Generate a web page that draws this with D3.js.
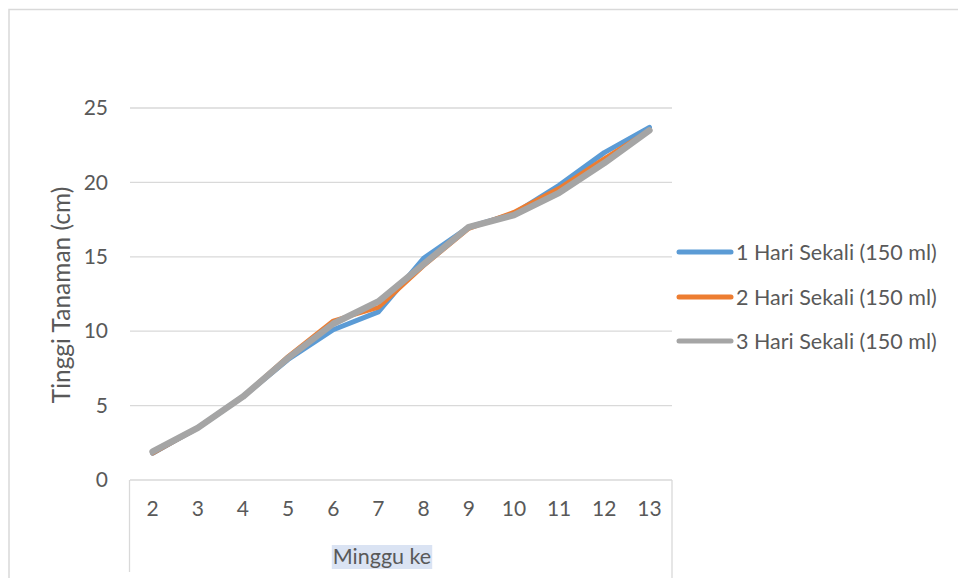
<!DOCTYPE html>
<html>
<head>
<meta charset="utf-8">
<script src="https://cdn.jsdelivr.net/npm/d3@7"></script>
<style>
  html, body { margin: 0; padding: 0; background: #fff; }
  svg { display: block; }
  text { font-family: Lato, "Open Sans", sans-serif; fill: #595959; }
</style>
</head>
<body>
<svg id="chart" width="958" height="578"></svg>
<script>
// ---- data ----
const weeks = ["2","3","4","5","6","7","8","9","10","11","12","13"];
const seriesNames = ["1 Hari Sekali (150 ml)", "2 Hari Sekali (150 ml)", "3 Hari Sekali (150 ml)"];
const series1 = [1.8, 3.5, 5.6, 8.1, 10.1, 11.3, 14.9, 17.0, 17.9, 19.8, 22.0, 23.7];
const series2 = [1.8, 3.5, 5.6, 8.3, 10.7, 11.6, 14.4, 16.9, 18.0, 19.6, 21.6, 23.5];
const series3 = [1.9, 3.5, 5.6, 8.2, 10.5, 12.0, 14.5, 17.0, 17.8, 19.3, 21.3, 23.5];
const yTicks = [0, 5, 10, 15, 20, 25];
const colors = ["#5b9bd5", "#ed7d31", "#a5a5a5"];
const yTitle = "Tinggi Tanaman (cm)";
const xTitle = "Minggu ke";

const svg = d3.select("#chart");
const plot = { left: 130, right: 672, top: 108, bottom: 480 };
const FONT = "Lato, 'Open Sans', sans-serif";

// chart border
svg.append("path")
  .attr("d", "M9,578 V9.5 H958")
  .attr("fill", "none").attr("stroke", "#d9d9d9").attr("stroke-width", 1.5);

const x = d3.scaleBand().domain(weeks).range([plot.left, plot.right]);
const y = d3.scaleLinear().domain([0, 25]).range([plot.bottom, plot.top]);

// gridlines
svg.append("g").selectAll("line").data(yTicks.filter(d => d > 0)).join("line")
  .attr("x1", plot.left).attr("x2", plot.right)
  .attr("y1", d => y(d)).attr("y2", d => y(d))
  .attr("stroke", "#d9d9d9").attr("stroke-width", 1.3);

// y axis labels
const yAxis = d3.axisLeft(y).tickValues(yTicks).tickSize(0).tickPadding(22);
const gy = svg.append("g").attr("transform", `translate(${plot.left},0)`).call(yAxis);
gy.select(".domain").remove();
gy.selectAll("text").attr("font-size", 21).style("font-family", FONT).attr("fill", "#595959");

// x axis: line + category box
svg.append("line").attr("x1", plot.left).attr("x2", plot.right)
  .attr("y1", plot.bottom).attr("y2", plot.bottom)
  .attr("stroke", "#d9d9d9").attr("stroke-width", 1.3);
svg.append("line").attr("x1", plot.left - 0.5).attr("x2", plot.left - 0.5)
  .attr("y1", plot.bottom).attr("y2", 572)
  .attr("stroke", "#d9d9d9").attr("stroke-width", 1.3);
svg.append("line").attr("x1", plot.right).attr("x2", plot.right)
  .attr("y1", plot.bottom).attr("y2", 578)
  .attr("stroke", "#d9d9d9").attr("stroke-width", 1.3);

const xAxis = d3.axisBottom(x).tickSize(0).tickPadding(21);
const gx = svg.append("g").attr("transform", `translate(0,${plot.bottom})`).call(xAxis);
gx.select(".domain").remove();
gx.selectAll("text").attr("font-size", 21).style("font-family", FONT).attr("fill", "#595959");

// x title with highlight
const xg = svg.append("g");
const hl = xg.append("rect").attr("fill", "#dae3f3");
const xt = xg.append("text").attr("x", 382).attr("y", 564)
  .attr("text-anchor", "middle").attr("font-size", 21.5).text(xTitle);
const bb = xt.node().getBBox();
hl.attr("x", bb.x - 1).attr("y", 545).attr("width", bb.width + 2).attr("height", 24);

// y title
svg.append("text").attr("transform", `translate(70,295) rotate(-90)`)
  .attr("text-anchor", "middle").attr("font-size", 24.5).text(yTitle);

// lines
const line = d3.line().x((d, i) => x(weeks[i]) + x.bandwidth() / 2).y(d => y(d));
const allSeries = [series1, series2, series3];
const widths = [5, 4.5, 6.5];
svg.append("g").selectAll("path").data(allSeries).join("path")
  .attr("d", d => line(d))
  .attr("fill", "none")
  .attr("stroke", (d, i) => colors[i])
  .attr("stroke-width", (d, i) => widths[i])
  .attr("stroke-linejoin", "round").attr("stroke-linecap", "round");

// legend
const legendY = [252, 297, 341];
const lg = svg.append("g");
seriesNames.forEach((name, i) => {
  lg.append("line").attr("x1", 679).attr("x2", 731)
    .attr("y1", legendY[i]).attr("y2", legendY[i])
    .attr("stroke", colors[i]).attr("stroke-width", 5).attr("stroke-linecap", "round");
  lg.append("text").attr("x", 736).attr("y", legendY[i] + 7.5)
    .attr("font-size", 21.5).text(name);
});
</script>
</body>
</html>
